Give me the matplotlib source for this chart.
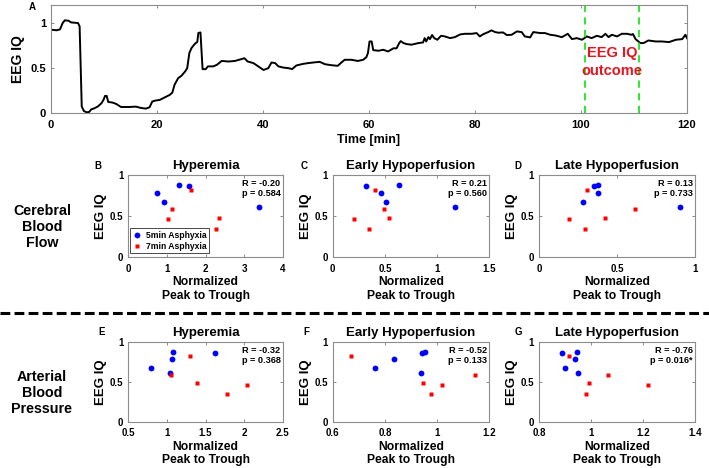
import numpy as np
import matplotlib
matplotlib.use("Agg")
import matplotlib.pyplot as plt
from matplotlib.lines import Line2D
from matplotlib.ticker import FuncFormatter

plt.rcParams['font.family'] = ['Liberation Sans', 'DejaVu Sans']
plt.rcParams['font.weight'] = 'bold'
plt.rcParams['axes.labelweight'] = 'bold'
plt.rcParams['axes.titleweight'] = 'bold'

# —— panel A: EEG IQ trace —— #
time_min = [0.0, 1.1, 1.7, 2.2, 2.6, 3.3, 3.8, 5.1, 5.4, 5.6, 5.8, 6.2, 6.7, 7.2, 7.6, 8.2, 8.8, 9.5,
            9.9, 10.2, 10.5, 10.8, 11.6, 12.3, 13.2, 14.8, 16.0, 17.0, 17.9, 18.6, 19.1, 19.6, 20.5,
            21.5, 22.4, 22.9, 23.3, 24.0, 24.6, 25.3, 25.7, 26.1, 26.5, 27.0, 27.3, 27.6, 27.8, 28.2,
            28.4, 28.6, 29.2, 29.6, 30.6, 31.3, 32.2, 33.5, 34.7, 35.9, 36.5, 37.1, 38.2, 39.1, 40.1,
            41.0, 41.6, 42.3, 42.9, 43.8, 44.8, 45.5, 46.3, 47.6, 48.5, 49.5, 50.7, 51.7, 52.9, 54.1,
            54.8, 55.4, 56.7, 57.9, 58.9, 59.5, 59.8, 60.1, 60.5, 60.8, 61.8, 62.7, 63.6, 64.6, 65.2,
            65.7, 66.0, 66.5, 67.1, 68.0, 69.3, 70.2, 70.5, 70.8, 71.2, 71.5, 71.9, 72.3, 72.9, 73.6,
            74.3, 75.3, 76.2, 77.2, 78.1, 79.4, 80.3, 80.9, 81.6, 82.5, 83.1, 83.8, 84.4, 85.3, 86.0,
            86.9, 87.9, 88.8, 89.4, 90.4, 91.0, 92.3, 93.2, 94.2, 95.1, 96.4, 97.5, 98.3, 99.2, 100.2,
            101.1, 102.0, 103.0, 103.9, 104.6, 105.2, 105.8, 106.8, 107.7, 108.7, 109.5, 109.8, 110.3,
            111.2, 111.8, 112.7, 114.1, 115.3, 116.6, 117.9, 119.1, 119.7, 120.0]
eeg_iq = [0.926, 0.92, 0.93, 1.0, 1.03, 1.026, 1.007, 1.0, 0.963, 0.52, 0.074, 0.026, 0.011, 0.015,
          0.044, 0.056, 0.074, 0.11, 0.148, 0.193, 0.193, 0.126, 0.119, 0.104, 0.07, 0.07, 0.074,
          0.059, 0.052, 0.067, 0.13, 0.14, 0.148, 0.178, 0.204, 0.23, 0.315, 0.39, 0.415, 0.463, 0.5,
          0.667, 0.722, 0.76, 0.778, 0.79, 0.89, 0.896, 0.70, 0.489, 0.489, 0.52, 0.52, 0.537, 0.58,
          0.574, 0.58, 0.6, 0.61, 0.574, 0.556, 0.52, 0.48, 0.5, 0.563, 0.556, 0.52, 0.507, 0.5, 0.49,
          0.53, 0.548, 0.556, 0.563, 0.57, 0.544, 0.533, 0.526, 0.563, 0.593, 0.593, 0.58, 0.593,
          0.622, 0.667, 0.796, 0.796, 0.70, 0.693, 0.704, 0.685, 0.72, 0.72, 0.778, 0.80, 0.778,
          0.767, 0.76, 0.778, 0.785, 0.833, 0.796, 0.844, 0.822, 0.867, 0.833, 0.815, 0.859, 0.852,
          0.833, 0.844, 0.874, 0.881, 0.881, 0.889, 0.852, 0.878, 0.9, 0.919, 0.9, 0.893, 0.896,
          0.867, 0.87, 0.907, 0.9, 0.852, 0.841, 0.9, 0.889, 0.889, 0.87, 0.863, 0.844, 0.881, 0.822,
          0.833, 0.815, 0.852, 0.833, 0.859, 0.844, 0.881, 0.844, 0.87, 0.852, 0.881, 0.881, 0.87,
          0.878, 0.822, 0.778, 0.778, 0.807, 0.796, 0.796, 0.789, 0.815, 0.822, 0.87, 0.833]
outcome_window = [100.8, 110.9]

# —— scatter panels: EEG IQ per animal —— #
eeg_5min = [0.874, 0.866, 0.785, 0.668, 0.607]
eeg_7min = [0.822, 0.583, 0.482, 0.462, 0.348]

cbf_hyper_5 = [1.31, 1.58, 0.75, 0.92, 3.39]
cbf_hyper_7 = [1.62, 1.13, 2.36, 1.04, 2.28]
cbf_early_5 = [0.635, 0.316, 0.466, 0.511, 1.168]
cbf_early_7 = [0.405, 0.49, 0.536, 0.204, 0.351]
cbf_late_5 = [0.376, 0.353, 0.376, 0.284, 0.904]
cbf_late_7 = [0.31, 0.618, 0.421, 0.192, 0.295]

abp_hyper_5 = [1.076, 1.627, 1.068, 0.80, 1.046]
abp_hyper_7 = [1.30, 1.055, 1.386, 2.035, 1.777]
abp_early_5 = [0.954, 0.941, 0.835, 0.761, 0.937]
abp_early_7 = [0.669, 1.145, 0.945, 1.017, 0.975]
abp_late_5 = [0.947, 0.888, 0.937, 0.899, 0.949]
abp_late_7 = [0.917, 1.064, 0.991, 1.218, 0.981]

stats = {
    "B": ("-0.20", "0.584"), "C": ("0.21", "0.560"), "D": ("0.13", "0.733"),
    "E": ("-0.32", "0.368"), "F": ("-0.52", "0.133"), "G": ("-0.76", "0.016*"),
}

W, H = 709, 468
SPINE = "#8c8c8c"
fig = plt.figure(figsize=(W / 100, H / 100), dpi=100)

def px_ax(l, t, r, b):
    return fig.add_axes([l / W, 1 - b / H, (r - l) / W, (b - t) / H])

fmt = FuncFormatter(lambda v, _: f"{v:g}")

def _style(ax, fs, xpad):
    for s in ax.spines.values():
        s.set_color(SPINE); s.set_linewidth(0.8)
    ax.tick_params(direction="in", top=True, right=True, length=2.5, width=0.7,
                   color=SPINE, labelsize=fs)
    ax.tick_params(axis="x", pad=xpad)
    ax.tick_params(axis="y", pad=3.5)
    ax.xaxis.set_major_formatter(fmt); ax.yaxis.set_major_formatter(fmt)

# —— A —— #
axA = px_ax(51, 5, 687, 113.3)
axA.plot(time_min, eeg_iq, color="k", lw=1.4)
for t in outcome_window:
    axA.axvline(t, color="#19e619", lw=1.3, dashes=(4, 3))
axA.text(np.mean(outcome_window), 0.67, "EEG IQ", color="#e8141e", fontsize=10.5, ha="center", va="center")
axA.text(np.mean(outcome_window), 0.47, "outcome", color="#e8141e", fontsize=10.5, ha="center", va="center")
axA.set_xlim(0, 120); axA.set_ylim(0, 1.2)
axA.set_xticks(range(0, 121, 20)); axA.set_yticks([0, 0.5, 1])
_style(axA, 8, 5)
axA.set_xlabel("Time [min]", fontsize=9, labelpad=3)
axA.set_ylabel("EEG IQ", fontsize=10, labelpad=4)
fig.text(32 / W, 1 - 7 / H, "A", fontsize=7, ha="center", va="center")

# —— B..G —— #
def scatter_panel(box, x5, x7, xlim, xticks, title, key, legend=False):
    ax = px_ax(*box)
    ax.plot(x5, eeg_5min, "o", color="#0000ff", ms=4.2, mec="none", label="5min Asphyxia")
    ax.plot(x7, eeg_7min, "s", color="#ff0000", ms=3.2, mec="none", label="7min Asphyxia")
    ax.set_xlim(*xlim); ax.set_ylim(0, 1)
    ax.set_xticks(xticks); ax.set_yticks([0, 0.5, 1])
    _style(ax, 7, 4.5)
    ax.set_title(title, fontsize=9.5, pad=4)
    ax.set_xlabel("Normalized\nPeak to Trough", fontsize=8.7, labelpad=2, linespacing=1.15)
    ax.set_ylabel("EEG IQ", fontsize=9.5, labelpad=2)
    r, p = stats[key]
    ax.text(0.985, 0.95, f"R = {r}\np = {p}", transform=ax.transAxes, ha="right", va="top",
            fontsize=6.6, linespacing=1.1)
    if legend:
        ax.legend(loc="lower left", bbox_to_anchor=(0.0, 0.03), fontsize=6.2, frameon=True,
                  fancybox=False, edgecolor="k", framealpha=1, handlelength=1, handletextpad=0.5,
                  borderpad=0.3, labelspacing=0.2, borderaxespad=0.2).get_frame().set_linewidth(0.5)
    return ax

row1 = (175, 257.3)
row2 = (342, 421.7)
cols = [(128.3, 282.7), (332.7, 489.3), (539, 695)]

scatter_panel((cols[0][0], row1[0], cols[0][1], row1[1]), cbf_hyper_5, cbf_hyper_7, (0, 4), [0, 1, 2, 3, 4], "Hyperemia", "B", legend=True)
scatter_panel((cols[1][0], row1[0], cols[1][1], row1[1]), cbf_early_5, cbf_early_7, (0, 1.5), [0, 0.5, 1, 1.5], "Early Hypoperfusion", "C")
scatter_panel((cols[2][0], row1[0], cols[2][1], row1[1]), cbf_late_5, cbf_late_7, (0, 1), [0, 0.5, 1], "Late Hypoperfusion", "D")
scatter_panel((cols[0][0], row2[0], cols[0][1], row2[1]), abp_hyper_5, abp_hyper_7, (0.5, 2.5), [0.5, 1, 1.5, 2, 2.5], "Hyperemia", "E")
scatter_panel((cols[1][0], row2[0], cols[1][1], row2[1]), abp_early_5, abp_early_7, (0.6, 1.2), [0.6, 0.8, 1, 1.2], "Early Hypoperfusion", "F")
scatter_panel((cols[2][0], row2[0], cols[2][1], row2[1]), abp_late_5, abp_late_7, (0.8, 1.4), [0.8, 1, 1.2, 1.4], "Late Hypoperfusion", "G")

for lab, x, y in [("B", 98, 166), ("C", 304, 166), ("D", 518, 166),
                  ("E", 102, 332), ("F", 306, 332), ("G", 518, 332)]:
    fig.text(x / W, 1 - y / H, lab, fontsize=7, ha="center", va="center")

fig.text(42 / W, 1 - 227 / H, "Cerebral\nBlood\nFlow", fontsize=10.3, ha="center", va="center", linespacing=1.15)
fig.text(42 / W, 1 - 393 / H, "Arterial\nBlood\nPressure", fontsize=10.3, ha="center", va="center", linespacing=1.15)

fig.add_artist(Line2D([0, 1], [1 - 313 / H] * 2, transform=fig.transFigure, color="k",
                      lw=2.2, dashes=(3.2, 1.4)))

fig.savefig("out.png", dpi=100)
